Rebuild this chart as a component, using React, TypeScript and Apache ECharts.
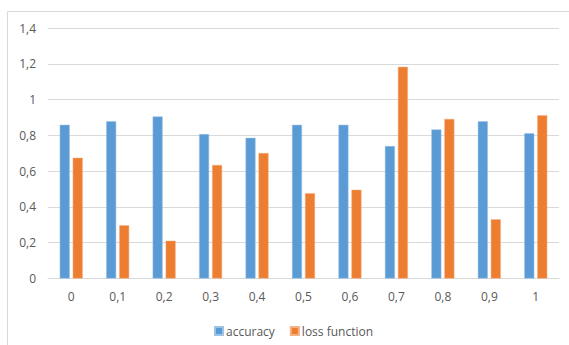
import React, { useEffect, useRef } from "react";
import * as echarts from "echarts";

const categories = ["0", "0,1", "0,2", "0,3", "0,4", "0,5", "0,6", "0,7", "0,8", "0,9", "1"];
const accuracy = [0.859, 0.879, 0.906, 0.807, 0.786, 0.859, 0.859, 0.74, 0.833, 0.879, 0.812];
const lossFunction = [0.675, 0.297, 0.211, 0.635, 0.701, 0.477, 0.496, 1.183, 0.892, 0.331, 0.913];

const FONT = "'Open Sans', 'Noto Sans', sans-serif";
const LABEL_COLOR = "#595959";
const GRID_COLOR = "#D9D9D9";

export default function App() {
  const ref = useRef<HTMLDivElement>(null);

  useEffect(() => {
    if (!ref.current) return;
    const chart = echarts.init(ref.current, null, { renderer: "svg" });
    chart.setOption({
      animation: false,
      backgroundColor: "#ffffff",
      textStyle: { fontFamily: FONT },
      graphic: [
        {
          type: "rect",
          shape: { x: 7.5, y: 11.5, width: 620, height: 400 },
          style: { fill: "none", stroke: GRID_COLOR, lineWidth: 1 },
          silent: true,
          z: -10,
        },
      ],
      grid: { left: 48, right: 10, top: 28, bottom: 66.5, containLabel: false },
      legend: {
        left: 209,
        top: 320,
        itemWidth: 8,
        itemHeight: 8,
        itemGap: 15,
        icon: "rect",
        textStyle: { color: LABEL_COLOR, fontSize: 12, fontFamily: FONT, padding: [0, 0, 0, -2] },
        data: ["accuracy", "loss function"],
      },
      xAxis: {
        type: "category",
        data: categories,
        axisLine: { show: true, lineStyle: { color: GRID_COLOR, width: 1 } },
        axisTick: { show: false },
        axisLabel: { color: LABEL_COLOR, fontSize: 12, margin: 12, fontFamily: FONT },
      },
      yAxis: {
        type: "value",
        min: 0,
        max: 1.4,
        interval: 0.2,
        axisLine: { show: false },
        axisTick: { show: false },
        splitLine: { lineStyle: { color: GRID_COLOR, width: 1 } },
        axisLabel: {
          color: LABEL_COLOR,
          fontSize: 12,
          margin: 12,
          fontFamily: FONT,
          formatter: (v: number) => String(Math.round(v * 10) / 10).replace(".", ","),
        },
      },
      series: [
        {
          name: "accuracy",
          type: "bar",
          data: accuracy,
          barWidth: 10,
          barGap: "30%",
          itemStyle: { color: "#5B9BD5", borderColor: "#9DC3E6", borderWidth: 0.5 },
        },
        {
          name: "loss function",
          type: "bar",
          data: lossFunction,
          barWidth: 10,
          barGap: "30%",
          itemStyle: { color: "#ED7D31", borderColor: "#F4B183", borderWidth: 0.5 },
        },
      ],
    });
    return () => chart.dispose();
  }, []);

  return (
    <div
      ref={ref}
      style={{ position: "fixed", left: 0, top: 0, width: 569, height: 345 }}
    />
  );
}
